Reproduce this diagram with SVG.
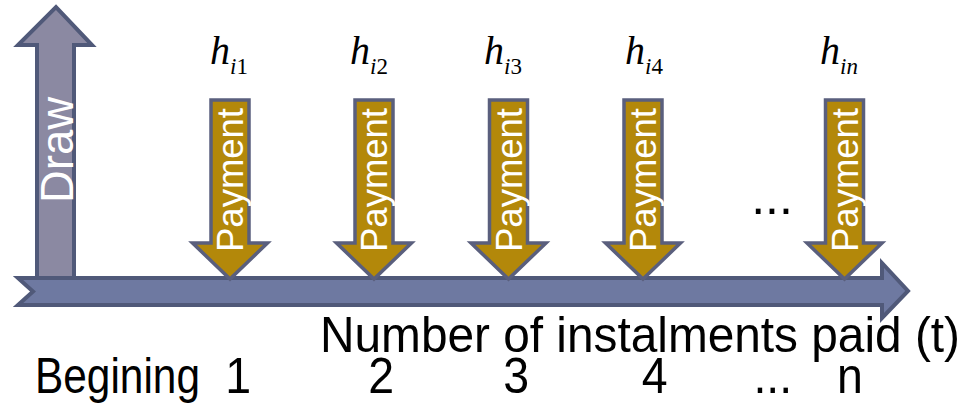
<svg xmlns="http://www.w3.org/2000/svg" width="965" height="404" viewBox="0 0 965 404">
<style>
.ax{stroke:#505979;stroke-width:4;stroke-linejoin:miter}
.pay{fill:#B3880A;stroke:#5A5F7D;stroke-width:3.5}
.pt{font-family:"Liberation Sans",Arial,sans-serif;font-size:37px;fill:#fff}
.h{font-family:"Liberation Serif","Times New Roman",serif;font-style:italic;fill:#000}
.hm{font-size:40px}
.hs{font-size:23px}
.up{font-style:normal}
.b{font-family:"Liberation Sans",Arial,sans-serif;font-size:50px;fill:#000}
</style>
<rect width="965" height="404" fill="#fff"/>
<g id="draw">
<polygon class="ax" fill="#8B89A2" points="37,280 37,45 18,45 56,7 92,45 74,45 74,280"/>
<text transform="translate(73,203) rotate(-90)" font-family="Liberation Sans,Arial,sans-serif" font-size="46" fill="#fff" textLength="106" lengthAdjust="spacingAndGlyphs">Draw</text>
</g>
<g id="connectors">
<polygon id="timeline" class="ax" fill="#6E79A1" points="18,278 882,278 882,263 908,291 882,318 882,305 18,305 33,291.5"/>
</g>
<g id="p1">
<polygon class="pay" points="211,100 249,100 249,243 267.5,243 230,279 192.5,243 211,243"/>
<text class="pt" transform="translate(243,252) rotate(-90)" textLength="144" lengthAdjust="spacingAndGlyphs">Payment</text>
</g>
<g id="p2">
<polygon class="pay" points="355,100 393,100 393,243 411.5,243 374,279 336.5,243 355,243"/>
<text class="pt" transform="translate(387,252) rotate(-90)" textLength="144" lengthAdjust="spacingAndGlyphs">Payment</text>
</g>
<g id="p3">
<polygon class="pay" points="489.5,100 527.5,100 527.5,243 546,243 508.5,279 471,243 489.5,243"/>
<text class="pt" transform="translate(521.5,252) rotate(-90)" textLength="144" lengthAdjust="spacingAndGlyphs">Payment</text>
</g>
<g id="p4">
<polygon class="pay" points="624,100 662,100 662,243 680.5,243 643,279 605.5,243 624,243"/>
<text class="pt" transform="translate(656,252) rotate(-90)" textLength="144" lengthAdjust="spacingAndGlyphs">Payment</text>
</g>
<g id="pn">
<polygon class="pay" points="825.5,100 863.5,100 863.5,243 882,243 844.5,279 807,243 825.5,243"/>
<text class="pt" transform="translate(857.5,252) rotate(-90)" textLength="144" lengthAdjust="spacingAndGlyphs">Payment</text>
</g>
<g id="labels">
<text class="h" x="210" y="64"><tspan class="hm">h</tspan><tspan class="hs" dy="10">i<tspan class="up">1</tspan></tspan></text>
<text class="h" x="350" y="64"><tspan class="hm">h</tspan><tspan class="hs" dy="10">i<tspan class="up">2</tspan></tspan></text>
<text class="h" x="484" y="64"><tspan class="hm">h</tspan><tspan class="hs" dy="10">i<tspan class="up">3</tspan></tspan></text>
<text class="h" x="625" y="64"><tspan class="hm">h</tspan><tspan class="hs" dy="10">i<tspan class="up">4</tspan></tspan></text>
<text class="h" x="820" y="64"><tspan class="hm">h</tspan><tspan class="hs" dy="10">in</tspan></text>
<text class="b" x="772" y="214" text-anchor="middle" font-size="47">...</text>
<text class="b" x="320" y="352" textLength="640" lengthAdjust="spacingAndGlyphs">Number of instalments paid (t)</text>
<text class="b" x="35" y="393" textLength="165" lengthAdjust="spacingAndGlyphs">Begining</text>
<g transform="translate(0,0) scale(0.93,1)">
<text class="b" x="256" y="393" text-anchor="middle">1</text>
<text class="b" x="410" y="393" text-anchor="middle">2</text>
<text class="b" x="555" y="393" text-anchor="middle">3</text>
<text class="b" x="704" y="393" text-anchor="middle">4</text>
<text class="b" x="831" y="393" text-anchor="middle">...</text>
<text class="b" x="914" y="393" text-anchor="middle">n</text>
</g>
</g>
</svg>
